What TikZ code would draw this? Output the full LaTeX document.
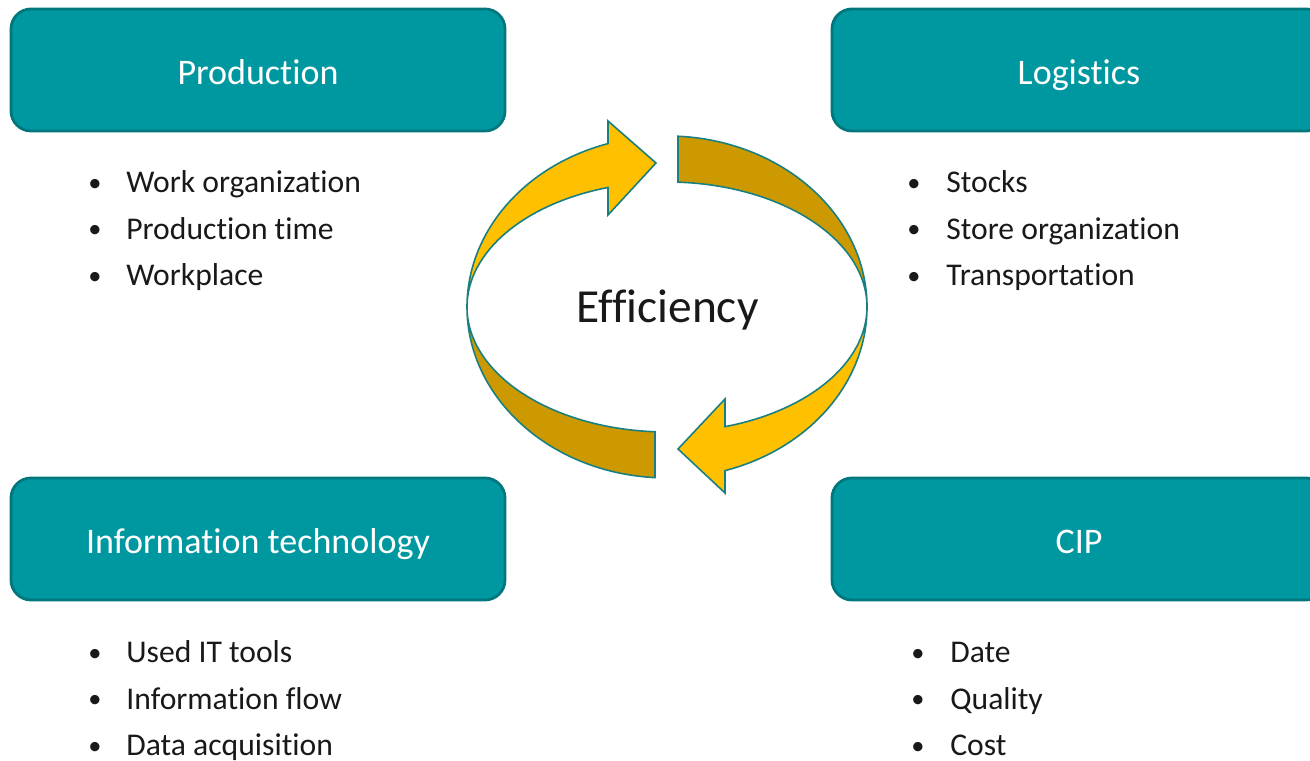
\documentclass[tikz,border=0pt]{standalone}
\usepackage{fontspec}
\setmainfont[Ligatures=NoCommon]{Carlito}
\usetikzlibrary{positioning}

\definecolor{boxteal}{HTML}{0098A0}
\definecolor{boxedge}{HTML}{00777D}
\definecolor{arrowgold}{HTML}{FFC000}
\definecolor{arrowdark}{HTML}{CC9900}
\definecolor{arrowline}{HTML}{1A7F80}

\tikzset{
  topic/.style={draw=boxedge, line width=1.6pt, fill=boxteal, rounded corners=0.4cm,
    minimum width=9.88cm, minimum height=2.44cm, text=white,
    font=\fontsize{20.5}{24}\selectfont, text height=16.5pt, text depth=0pt},
  item/.style={anchor=base west, inner sep=0pt, text=black!90, font=\fontsize{18}{22}\selectfont},
  dot/.style={anchor=base, inner sep=0pt, text=black!90, font=\fontsize{15}{22}\selectfont},
  band/.style={draw=arrowline, line width=0.9pt, line join=miter}
}

\begin{document}
\begin{tikzpicture}

\useasboundingbox (0,0) rectangle (26.2,15.22);

% the four topic boxes
\node[topic] (production) at (5.16,13.82) {Production};
\node[topic] (logistics) at (21.58,13.82) {Logistics};
\node[topic] (infotech) at (5.16,4.44) {Information technology};
\node[topic] (cip) at (21.58,4.44) {CIP};

% bullet lists
\foreach \txt [count=\i] in {Work organization, Production time, Workplace} {
  \node[item] (prod-\i) at (2.52,{12.29-0.93*\i}) {\txt};
  \node[dot] at ([xshift=-0.62cm,yshift=0.03cm]prod-\i.base west) {\textbullet};
}
\foreach \txt [count=\i] in {Stocks, Store organization, Transportation} {
  \node[item] (log-\i) at (18.92,{12.29-0.93*\i}) {\txt};
  \node[dot] at ([xshift=-0.64cm,yshift=0.03cm]log-\i.base west) {\textbullet};
}
\foreach \txt [count=\i] in {Used IT tools, Information flow, Data acquisition} {
  \node[item] (it-\i) at (2.52,{2.89-0.93*\i}) {\txt};
  \node[dot] at ([xshift=-0.62cm,yshift=0.03cm]it-\i.base west) {\textbullet};
}
\foreach \txt [count=\i] in {Date, Quality, Cost} {
  \node[item] (cip-\i) at (19.0,{2.89-0.93*\i}) {\txt};
  \node[dot] at ([xshift=-0.64cm,yshift=0.03cm]cip-\i.base west) {\textbullet};
}

% cycle in the middle
\coordinate (ring) at (13.34,9.08);

\draw[band, fill=arrowgold] (9.34,9.08) arc[start angle=180, end angle=107.16, x radius=4, y radius=3.42]
  -- (12.16,12.8) -- (13.12,11.96) -- (12.16,10.92) -- (12.16,11.47)
  arc[start angle=107.16, end angle=180, x radius=4, y radius=2.5] -- cycle;
\draw[band, fill=arrowdark] (13.56,12.495) arc[start angle=86.85, end angle=0, x radius=4, y radius=3.42]
  arc[start angle=0, end angle=86.85, x radius=4, y radius=2.5] -- cycle;
\draw[band, fill=arrowgold] (17.34,9.08) arc[start angle=0, end angle=-73.14, x radius=4, y radius=3.42]
  -- (14.5,5.36) -- (13.56,6.24) -- (14.5,7.24) -- (14.5,6.687)
  arc[start angle=-73.14, end angle=0, x radius=4, y radius=2.5] -- cycle;
\draw[band, fill=arrowdark] (9.34,9.08) arc[start angle=180, end angle=266.56, x radius=4, y radius=2.5]
  -- (13.1,5.667) arc[start angle=266.56, end angle=180, x radius=4, y radius=3.42] -- cycle;

\node[anchor=base, text=black!90, font=\fontsize{27}{31}\selectfont] (efficiency) at (13.35,8.76) {Efficiency};

\end{tikzpicture}
\end{document}
